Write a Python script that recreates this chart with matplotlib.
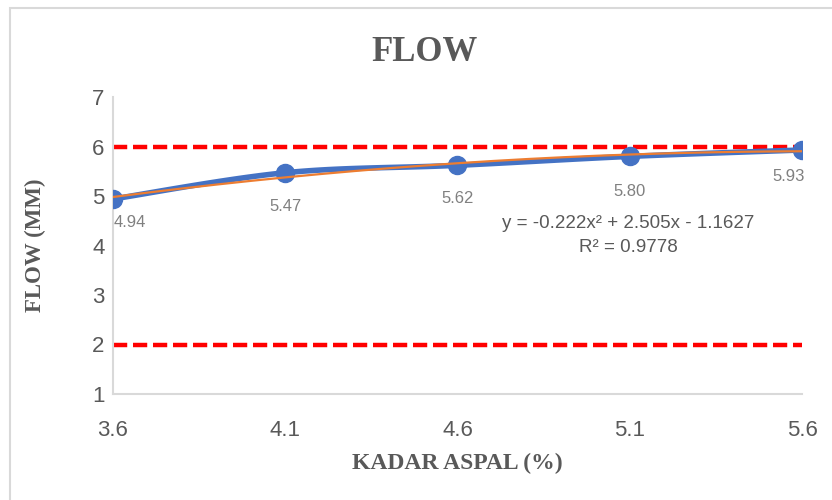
import numpy as np
import matplotlib
matplotlib.use("Agg")
import matplotlib.pyplot as plt
from matplotlib.patches import Rectangle

kadar = [3.6, 4.1, 4.6, 5.1, 5.6]
flow = [4.94, 5.47, 5.62, 5.80, 5.93]
labels = ["4.94", "5.47", "5.62", "5.80", "5.93"]
batas_atas = 6
batas_bawah = 2
persamaan = "y = -0.222x² + 2.505x - 1.1627"
r2 = "R² = 0.9778"

# label offsets in points (as placed in the original)
label_offsets = [(12, -17), (0, -24.5), (0, -24), (0, -25), (-9.5, -19)]


# Catmull-Rom smoothing like Excel's smoothed line
def smooth(x, y, n=30):
    x = np.asarray(x, float)
    y = np.asarray(y, float)
    px = np.concatenate([[x[0]], x, [x[-1]]])
    py = np.concatenate([[y[0]], y, [y[-1]]])
    xs, ys = [], []
    t = np.linspace(0, 1, n)
    bez = lambda a, b, c, d: (1 - t) ** 3 * a + 3 * (1 - t) ** 2 * t * b + 3 * (1 - t) * t ** 2 * c + t ** 3 * d
    for i in range(1, len(px) - 2):
        p0x, p1x, p2x, p3x = px[i - 1:i + 3]
        p0y, p1y, p2y, p3y = py[i - 1:i + 3]
        xs.append(bez(p1x, p1x + (p2x - p0x) / 6, p2x - (p3x - p1x) / 6, p2x))
        ys.append(bez(p1y, p1y + (p2y - p0y) / 6, p2y - (p3y - p1y) / 6, p2y))
    return np.concatenate(xs), np.concatenate(ys)


fig = plt.figure(figsize=(8.32, 5), dpi=100)
fig.patches.append(Rectangle((10 / 832, -0.05), 1.0, 1.05 - 8 / 500, transform=fig.transFigure,
                             fill=False, edgecolor="#d9d9d9", linewidth=1.5))
ax = fig.add_axes([113 / 832, 106 / 500, 689 / 832, 297 / 500])

grey = "#595959"

ax.plot(kadar, [batas_atas] * len(kadar), color="red", lw=3.2, dashes=(3.2, 1.3), zorder=2)
ax.plot(kadar, [batas_bawah] * len(kadar), color="red", lw=3.2, dashes=(3.2, 1.3), zorder=2)

sx, sy = smooth(kadar, flow)
ax.plot(sx, sy, color="#4472C4", lw=4, zorder=3)
ax.plot(kadar, flow, "o", color="#4472C4", ms=13, zorder=4)

coef = np.polyfit(kadar, flow, 2)
xt = np.linspace(kadar[0], kadar[-1], 200)
ax.plot(xt, np.polyval(coef, xt), color="#ED7D31", lw=1.6, zorder=5)

for x, y, t, off in zip(kadar, flow, labels, label_offsets):
    ax.annotate(t, (x, y), xytext=off, textcoords="offset points", ha="center",
                va="center", fontsize=12, color="#808080", family="Liberation Sans")

ax.text(628 / 832, 1 - 223 / 500, persamaan, transform=fig.transFigure, ha="center", va="center",
        fontsize=13.5, color=grey, family="Liberation Sans")
ax.text(628 / 832, 1 - 248 / 500, r2, transform=fig.transFigure, ha="center", va="center",
        fontsize=13.5, color=grey, family="Liberation Sans")

ax.set_xlim(3.6, 5.6)
ax.set_ylim(1, 7)
ax.set_xticks([3.6, 4.1, 4.6, 5.1, 5.6])
ax.set_xticklabels(["3.6", "4.1", "4.6", "5.1", "5.6"])
ax.set_yticks(range(1, 8))
ax.tick_params(axis="x", length=0, pad=19, labelsize=16, labelcolor=grey)
ax.tick_params(axis="y", length=0, pad=6, labelsize=16, labelcolor=grey)
for lab in ax.get_xticklabels() + ax.get_yticklabels():
    lab.set_family("Liberation Sans")

for s in ["top", "right"]:
    ax.spines[s].set_visible(False)
for s in ["left", "bottom"]:
    ax.spines[s].set_color("#d9d9d9")
    ax.spines[s].set_linewidth(1.5)

ax.set_title("FLOW", fontsize=25, fontweight="bold", family="Liberation Serif",
             color=grey, pad=26, x=(425 - 113) / 689)
ax.set_xlabel("KADAR ASPAL (%)", fontsize=17, fontweight="bold", family="Liberation Serif",
              color=grey, va="center")
ax.xaxis.set_label_coords(0.5, (394 - 463) / 297)
ax.set_ylabel("FLOW (MM)", fontsize=16.5, fontweight="bold", family="Liberation Serif",
              color=grey, va="center")
ax.yaxis.set_label_coords((35 - 113) / 689, 0.5)

fig.savefig("out.png", dpi=100)
